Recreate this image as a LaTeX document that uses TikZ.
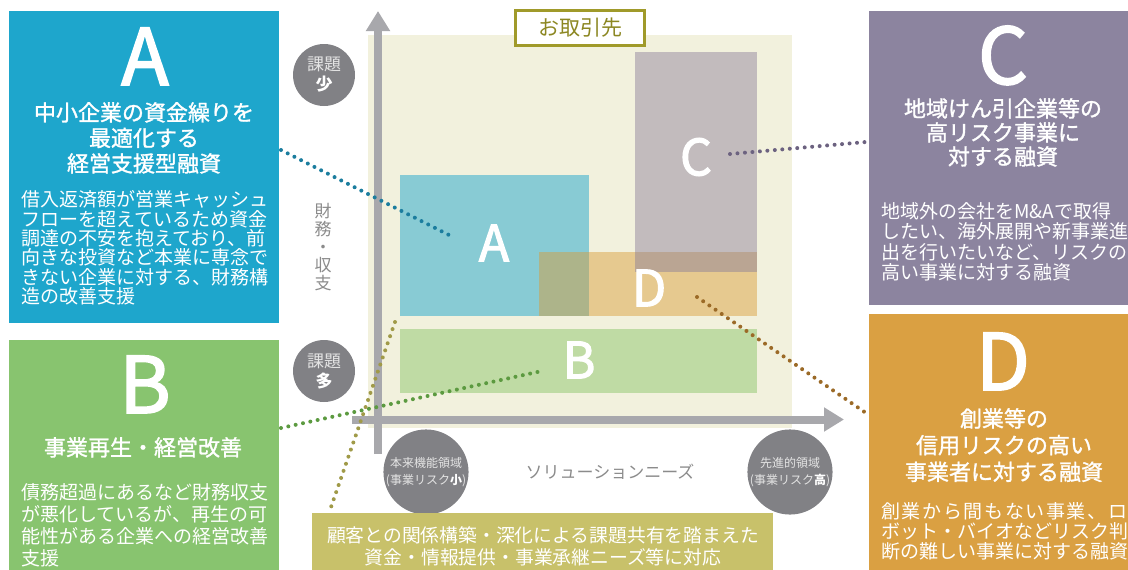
\documentclass[tikz,border=0pt]{standalone}
\usepackage{fontspec}
\setmainfont{Noto Sans CJK JP}
\newfontfamily\medfont{Noto Sans CJK JP}[FakeBold=1.3]
\newfontfamily\letfont{Noto Sans CJK JP}[FakeBold=2.2]
\usetikzlibrary{arrows.meta}
\definecolor{pA}{HTML}{1EA6CC}
\definecolor{pB}{HTML}{88C46F}
\definecolor{pC}{HTML}{8C849F}
\definecolor{pD}{HTML}{DAA042}
\definecolor{bg}{HTML}{F2F1DD}
\definecolor{rA}{HTML}{88CBD4}
\definecolor{rB}{HTML}{BFDBA4}
\definecolor{rC}{HTML}{C2BBBD}
\definecolor{rD}{HTML}{E6C98F}
\definecolor{rAD}{HTML}{ADB48A}
\definecolor{rCD}{HTML}{BAA593}
\definecolor{axgray}{HTML}{A8A8AC}
\definecolor{cgray}{HTML}{818185}
\definecolor{lgray}{HTML}{E4E4E4}
\definecolor{tgray}{HTML}{8B8B8B}
\definecolor{olive}{HTML}{C8C16A}
\definecolor{oliveline}{HTML}{A09A2A}
\definecolor{olivetext}{HTML}{8C8722}
\definecolor{dA}{HTML}{1B7D9E}
\definecolor{dB}{HTML}{5C9A40}
\definecolor{dC}{HTML}{6C6280}
\definecolor{dD}{HTML}{9B6A27}
\definecolor{dO}{HTML}{A09A48}
\newcommand\myfs[2]{\fontsize{#1}{#2}\selectfont}
\begin{document}
\begin{tikzpicture}[x=1pt,y=-1pt,
  panel/.style={inner sep=0pt, outer sep=0pt, anchor=north west, draw=none},
  bigletter/.style={text=white, font=\letfont\myfs{78}{78}, anchor=base, inner sep=0pt},
  midletter/.style={text=white, font=\letfont\myfs{50}{50}, anchor=center, inner sep=0pt},
  headtxt/.style={text=white, align=center, anchor=north, inner sep=0pt},
  bodytxt/.style={text=white, align=left, anchor=north west, inner sep=0pt, font=\myfs{19}{20}},
  dotline/.style={line width=4pt, line cap=round, dash pattern=on 0pt off 7.5pt},
  axisline/.style={line width=8pt, draw=axgray, -{Triangle[width=23pt,length=20pt]}},
  qcircle/.style={circle, fill=cgray, inner sep=0pt, text=lgray, align=center},
]
\useasboundingbox (0,0) rectangle (1128,570);

% ---------- centre chart ----------
\node[panel, fill=bg, minimum width=424pt, minimum height=393pt] (bgr) at (368,35) {};
\node[panel, fill=rC, minimum width=122pt, minimum height=220pt] (rectC) at (635,52) {};
\node[panel, fill=rA, minimum width=189pt, minimum height=141pt] (rectA) at (400,175) {};
\node[panel, fill=rD, minimum width=218pt, minimum height=64pt] (rectD) at (539,252) {};
\node[panel, fill=rAD, minimum width=50pt, minimum height=64pt] (rectAD) at (539,252) {};
\node[panel, fill=rCD, minimum width=122pt, minimum height=20pt] (rectCD) at (635,252) {};
\node[panel, fill=rB, minimum width=357pt, minimum height=64pt] (rectB) at (400,329) {};

\node[midletter] (lA) at (494,243) {A};
\node[midletter] (lC) at (696,157) {C};
\node[midletter] (lD) at (649,288) {D};
\node[midletter] (lB) at (579,360) {B};

% axes
\coordinate (vbot) at (378,454);
\coordinate (vtop) at (378,11);
\coordinate (hleft) at (352,419.5);
\coordinate (hright) at (844,419.5);
\draw[axisline] (vbot) -- (vtop);
\draw[axisline] (hleft) -- (hright);

% title box
\node[draw=oliveline, line width=3pt, fill=white, minimum width=129pt, minimum height=35pt,
      inner sep=0pt, text=olivetext, font=\myfs{21}{21}] (client) at (580,28) {お取引先};

% circles
\node[qcircle, minimum size=62pt, font=\myfs{17}{20}] (qlow) at (324,75) {課題\\\textcolor{white}{\textbf{少}}};
\node[qcircle, minimum size=62pt, font=\myfs{17}{20}] (qhigh) at (324,371) {課題\\\textcolor{white}{\textbf{多}}};
\node[qcircle, minimum size=77pt, font=\myfs{12}{17}] (rlow) at (426,472) {本来機能領域\\(事業リスク\textcolor{white}{\textbf{小}})};
\node[qcircle, minimum size=77pt, font=\myfs{12}{17}] (rhigh) at (790,472) {先進的領域\\(事業リスク\textcolor{white}{\textbf{高}})};

\node[text=tgray, align=center, inner sep=0pt, font=\myfs{17}{17.8}] (vlab) at (323,247) {財\\務\\・\\収\\支};
\node[text=tgray, inner sep=0pt, font=\myfs{17}{17}] (hlab) at (610,472) {ソリューションニーズ};

% bottom olive box
\node[panel, fill=olive, minimum width=461pt, minimum height=57pt] (obox) at (312,513) {};
\node[text=white, align=center, inner sep=0pt, font=\myfs{18.8}{22}] (otext) at (543,546)
  {顧客との関係構築・深化による課題共有を踏まえた\\資金・情報提供・事業承継ニーズ等に対応};

% ---------- panel A ----------
\node[panel, fill=pA, minimum width=270pt, minimum height=312pt] (boxA) at (9,11) {};
\node[bigletter] (bigA) at (145,85) {A};
\node[headtxt, font=\medfont\myfs{22}{25.5}] (headA) at (144,102)
  {中小企業の資金繰りを\\最適化する\\経営支援型融資};
\node[bodytxt, font=\myfs{19}{19.4}] (bodyA) at (21,190.5)
  {借入返済額が営業キャッシュ\\フローを超えているため資金\\調達の不安を抱えており、前\\向きな投資など本業に専念で\\きない企業に対する、財務構\\造の改善支援};

% ---------- panel B ----------
\node[panel, fill=pB, minimum width=270pt, minimum height=230pt] (boxB) at (9,340) {};
\node[bigletter] (bigB) at (145,413) {B};
\node[headtxt, font=\medfont\myfs{22}{25}] (headB) at (143,437) {事業再生・経営改善};
\node[bodytxt, font=\myfs{19}{22}] (bodyB) at (21,483.5)
  {債務超過にあるなど財務収支\\が悪化しているが、再生の可\\能性がある企業への経営改善\\支援};

% ---------- panel C ----------
\node[panel, fill=pC, minimum width=259pt, minimum height=294pt] (boxC) at (869,11) {};
\node[bigletter] (bigC) at (1003,84) {C};
\node[headtxt, font=\medfont\myfs{22}{24}] (headC) at (1003,98)
  {地域けん引企業等の\\高リスク事業に\\対する融資};
\node[bodytxt, font=\myfs{19}{20.3}] (bodyC) at (881,202.5)
  {地域外の会社をM\&Aで取得\\したい、海外展開や新事業進\\出を行いたいなど、リスクの\\高い事業に対する融資};

% ---------- panel D ----------
\node[panel, fill=pD, minimum width=259pt, minimum height=256pt] (boxD) at (869,314) {};
\node[bigletter] (bigD) at (1003,390) {D};
\node[headtxt, font=\medfont\myfs{22}{26.7}] (headD) at (1004,408)
  {創業等の\\信用リスクの高い\\事業者に対する融資};
\node[bodytxt, font=\myfs{19}{20}] (bodyD) at (881,502.5)
  {\makebox[246pt][s]{創\hfil 業\hfil か\hfil ら\hfil 間\hfil も\hfil な\hfil い\hfil 事\hfil 業\hfil 、\hfil ロ}\\ボット・バイオなどリスク判\\断の難しい事業に対する融資};

% ---------- dotted connectors ----------
\coordinate (a1) at (281,150);  \coordinate (a2) at (449,235);
\coordinate (b1) at (281,428);  \coordinate (b2) at (542,371);
\coordinate (c1) at (730,154);  \coordinate (c2) at (866,142);
\coordinate (d1) at (697,297);  \coordinate (d2) at (866,413);
\coordinate (o1) at (395,322);  \coordinate (o2) at (330,510);
\draw[dotline, dA] (a1) -- (a2);
\draw[dotline, dB] (b1) -- (b2);
\draw[dotline, dC] (c1) -- (c2);
\draw[dotline, dD] (d1) -- (d2);
\draw[dotline, dO] (o1) -- (o2);
\end{tikzpicture}
\end{document}
